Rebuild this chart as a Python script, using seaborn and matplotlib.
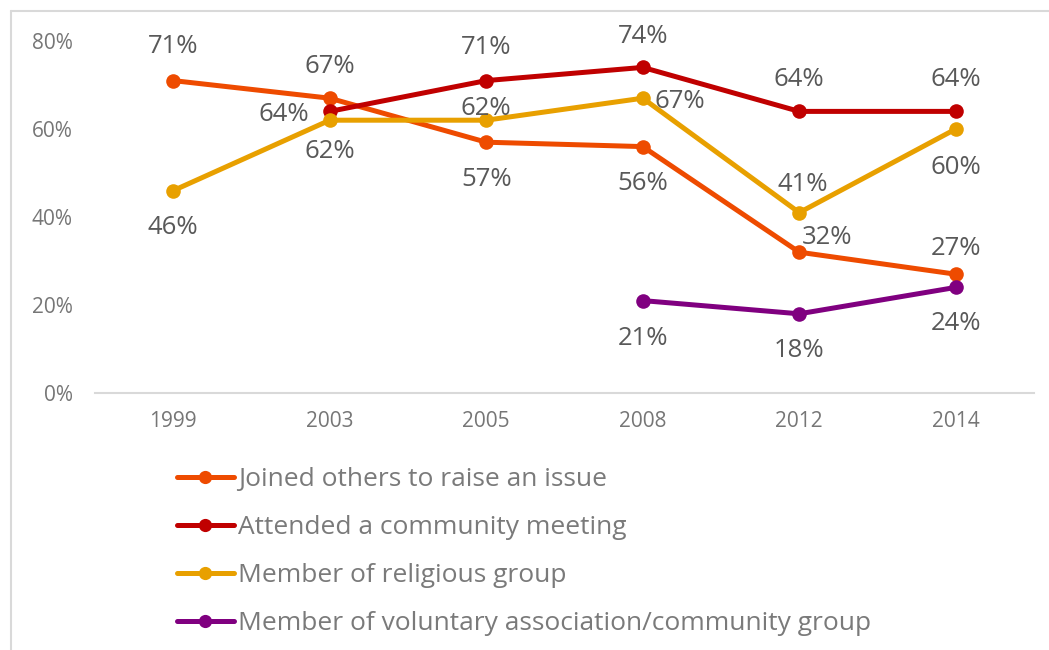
import numpy as np
import pandas as pd
import matplotlib
matplotlib.use("Agg")
import matplotlib.pyplot as plt
import seaborn as sns
from matplotlib.lines import Line2D

# ---------------- data ----------------
years = ["1999", "2003", "2005", "2008", "2012", "2014"]
joined = [71, 67, 57, 56, 32, 27]
attended = [np.nan, 64, 71, 74, 64, 64]
religious = [46, 62, 62, 67, 41, 60]
voluntary = [np.nan, np.nan, np.nan, 21, 18, 24]
series_names = [
    "Joined others to raise an issue",
    "Attended a community meeting",
    "Member of religious group",
    "Member of voluntary association/community group",
]
y_ticks = [0, 20, 40, 60, 80]

# ---------------- style ----------------
colors = ["#EE4B00", "#C00000", "#E8A000", "#800080"]
# data label offsets in pixels (dx, dy) for each series / year
label_offsets = [
    [(0, 34), (0, 32), (0, -37), (0, -37), (28, 15), (0, 26)],
    [None, (-46, -3), (0, 33), (0, 31), (0, 32), (0, 32)],
    [(0, -37), (0, -31), (0, 12), (37, -3), (4, 28), (0, -38)],
    [None, None, None, (0, -38), (0, -37), (0, -36)],
]

sns.set_theme(style="white")
plt.rcParams["font.family"] = ["Open Sans", "DejaVu Sans"]

W, H = 1049, 650
fig = plt.figure(figsize=(W / 100, H / 100), dpi=100)
ax = fig.add_axes([95 / W, 1 - 393 / H, (1034 - 95) / W, (393 - 41) / H])

values = [joined, attended, religious, voluntary]
rows = []
for name, vals in zip(series_names, values):
    for i, (yr, v) in enumerate(zip(years, vals)):
        rows.append({"pos": i, "year": yr, "value": v, "series": name})
df = pd.DataFrame(rows).dropna()

sns.lineplot(
    data=df, x="pos", y="value", hue="series", hue_order=series_names,
    palette=colors, marker="o", markersize=10.5, markeredgewidth=0,
    linewidth=3.6, ax=ax, legend=False, sort=True,
)

label_color = "#595959"
for name, vals, offs in zip(series_names, values, label_offsets):
    for i, v in enumerate(vals):
        if np.isnan(v):
            continue
        dx, dy = offs[i]
        ax.annotate(f"{int(v)}%", xy=(i, v), xytext=(dx, dy),
                    textcoords="offset pixels", ha="center", va="center",
                    fontsize=18.5, color=label_color)

ax.set_xlim(-0.5, len(years) - 0.5)
ax.set_ylim(0, 80)
ax.set_xticks(range(len(years)))
ax.set_xticklabels(years)
ax.set_yticks(y_ticks)
ax.set_yticklabels([f"{t}%" for t in y_ticks])
ax.set_xlabel("")
ax.set_ylabel("")
ax.tick_params(axis="x", length=0, pad=13, labelsize=15, labelcolor="#767676")
ax.tick_params(axis="y", length=0, pad=16, labelsize=15, labelcolor="#767676")
for s in ["top", "right", "left"]:
    ax.spines[s].set_visible(False)
ax.spines["bottom"].set_color("#d9d9d9")
ax.spines["bottom"].set_linewidth(1.5)
ax.grid(False)

# legend
handles = [Line2D([0], [0], color=c, lw=3.6, marker="o", markersize=9.5,
                  markeredgewidth=0) for c in colors]
fig.legend(handles, series_names, loc="upper left",
           bbox_to_anchor=(177 / W, 1 - 467 / H), frameon=False,
           handlelength=2.15, handletextpad=0.15, labelspacing=0.87,
           fontsize=19, labelcolor="#7a7a7a", borderaxespad=0, borderpad=0)

# outer border (left and top)
fig.add_artist(Line2D([11 / W, 11 / W], [0, 1 - 11 / H], color="#d9d9d9",
                      lw=1.5, transform=fig.transFigure))
fig.add_artist(Line2D([11 / W, 1], [1 - 11 / H, 1 - 11 / H], color="#d9d9d9",
                      lw=1.5, transform=fig.transFigure))

fig.savefig("out.png", dpi=100)
